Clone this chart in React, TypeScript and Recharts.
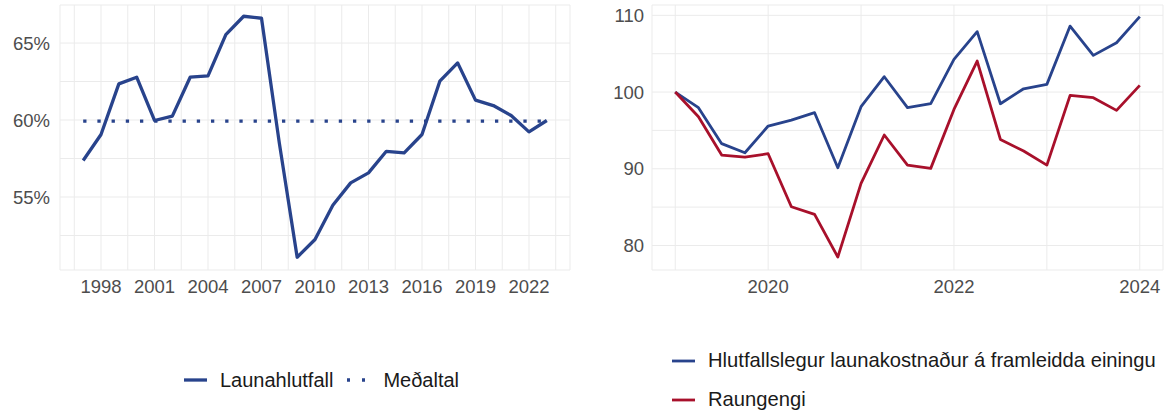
import React from 'react';
import { LineChart, Line, XAxis, YAxis, CartesianGrid } from 'recharts';

const years = [1997, 1998, 1999, 2000, 2001, 2002, 2003, 2004, 2005, 2006, 2007, 2008, 2009, 2010, 2011, 2012, 2013, 2014, 2015, 2016, 2017, 2018, 2019, 2020, 2021, 2022, 2023];
const launahlutfall = [57.37, 59.06, 62.35, 62.78, 59.97, 60.25, 62.78, 62.87, 65.55, 66.74, 66.61, 58.5, 51.09, 52.24, 54.47, 55.92, 56.57, 57.97, 57.87, 59.06, 62.52, 63.71, 61.29, 60.94, 60.29, 59.23, 59.97];
const leftXTicks = [1996.5, 1998, 1999.5, 2001, 2002.5, 2004, 2005.5, 2007, 2008.5, 2010, 2011.5, 2013, 2014.5, 2016, 2017.5, 2019, 2020.5, 2022, 2023.5];
const leftXLabels = [1998, 2001, 2004, 2007, 2010, 2013, 2016, 2019, 2022];
const leftYTicks = [52.5, 55, 57.5, 60, 62.5, 65];
const leftYLabels = [55, 60, 65];

const quarters = [2019, 2019.25, 2019.5, 2019.75, 2020, 2020.25, 2020.5, 2020.75, 2021, 2021.25, 2021.5, 2021.75, 2022, 2022.25, 2022.5, 2022.75, 2023, 2023.25, 2023.5, 2023.75, 2024];
const hlutfallslegur = [100.0, 97.96, 93.27, 92.09, 95.57, 96.35, 97.31, 90.14, 98.09, 102.0, 97.96, 98.48, 104.26, 107.87, 98.48, 100.43, 101.0, 108.6, 104.78, 106.43, 109.83];
const raungengi = [100.0, 96.79, 91.79, 91.53, 91.96, 85.05, 84.05, 78.49, 88.1, 94.4, 90.48, 90.05, 97.74, 104.04, 93.83, 92.31, 90.48, 99.57, 99.26, 97.61, 100.87];
const rightXTicks = [2019, 2020, 2021, 2022, 2023, 2024];
const rightXLabels = [2020, 2022, 2024];
const rightYTicks = [80, 85, 90, 95, 100, 105, 110];
const rightYLabels = [80, 90, 100, 110];

const BLUE = '#28438c';
const RED = '#a8102b';
const GRID = '#ebebeb';
const AXIS_TEXT = '#4d4d4d';
const FONT = '"Liberation Sans", Arial, sans-serif';

const meanValue = launahlutfall.reduce((a, b) => a + b, 0) / launahlutfall.length;
const leftData = years.map((y, i) => ({ year: y, value: launahlutfall[i], mean: meanValue }));
const rightData = quarters.map((q, i) => ({ q, hlut: hlutfallslegur[i], raun: raungengi[i] }));

const tickStyle = { fill: AXIS_TEXT, fontSize: 18.5, fontFamily: FONT };

export default function App() {
  return (
    <div style={{ position: 'absolute', left: 0, top: 0, width: 1165, height: 411, background: '#fff', fontFamily: FONT }}>
      <div style={{ position: 'absolute', left: 0, top: 0 }}>
        <LineChart width={580} height={300} data={leftData} margin={{ top: 5, right: 10, bottom: 5, left: 0 }}>
          <CartesianGrid stroke={GRID} strokeWidth={1} />
          <XAxis
            dataKey="year"
            type="number"
            domain={[1995.7, 2024.3]}
            ticks={leftXTicks}
            tickFormatter={(v: number) => (leftXLabels.includes(v) ? String(v) : '')}
            axisLine={false}
            tickLine={false}
            tick={tickStyle}
            tickMargin={4}
            height={25}
            interval={0}
            allowDataOverflow
          />
          <YAxis
            type="number"
            domain={[50.26, 67.47]}
            ticks={leftYTicks}
            tickFormatter={(v: number) => (leftYLabels.includes(v) ? `${v}%` : '')}
            axisLine={false}
            tickLine={false}
            tick={tickStyle}
            tickMargin={4}
            width={60}
            interval={0}
            allowDataOverflow
          />
          <Line type="linear" dataKey="mean" stroke={BLUE} strokeWidth={3.3} strokeDasharray="3.3 10.9" dot={false} isAnimationActive={false} />
          <Line type="linear" dataKey="value" stroke={BLUE} strokeWidth={3.3} dot={false} isAnimationActive={false} strokeLinejoin="round" />
        </LineChart>
      </div>
      <div style={{ position: 'absolute', left: 590, top: 0 }}>
        <LineChart width={575} height={300} data={rightData} margin={{ top: 5, right: 2, bottom: 5, left: 0 }}>
          <CartesianGrid stroke={GRID} strokeWidth={1} />
          <XAxis
            dataKey="q"
            type="number"
            domain={[2018.75, 2024.25]}
            ticks={rightXTicks}
            tickFormatter={(v: number) => (rightXLabels.includes(v) ? String(v) : '')}
            axisLine={false}
            tickLine={false}
            tick={tickStyle}
            tickMargin={4}
            height={25}
            interval={0}
            allowDataOverflow
          />
          <YAxis
            type="number"
            domain={[76.8, 111.35]}
            ticks={rightYTicks}
            tickFormatter={(v: number) => (rightYLabels.includes(v) ? String(v) : '')}
            axisLine={false}
            tickLine={false}
            tick={tickStyle}
            tickMargin={2}
            width={62}
            interval={0}
            allowDataOverflow
          />
          <Line type="linear" dataKey="hlut" stroke={BLUE} strokeWidth={2.8} dot={false} isAnimationActive={false} strokeLinejoin="round" />
          <Line type="linear" dataKey="raun" stroke={RED} strokeWidth={2.8} dot={false} isAnimationActive={false} strokeLinejoin="round" />
        </LineChart>
      </div>
      {/* Left legend */}
      <div style={{ position: 'absolute', left: 184, top: 366, height: 28, display: 'flex', alignItems: 'center', fontSize: 20, color: '#1a1a1a' }}>
        <svg width={23} height={10} style={{ marginRight: 13 }}>
          <line x1={0} y1={5} x2={23} y2={5} stroke={BLUE} strokeWidth={3.3} />
        </svg>
        <span>Launahlutfall</span>
        <svg width={18} height={10} style={{ marginLeft: 14, marginRight: 18 }}>
          <line x1={0} y1={5} x2={18} y2={5} stroke={BLUE} strokeWidth={3.3} strokeDasharray="3 12" />
        </svg>
        <span>Meðaltal</span>
      </div>
      {/* Right legend */}
      <div style={{ position: 'absolute', left: 672, top: 346, fontSize: 20.2, color: '#1a1a1a' }}>
        <div style={{ display: 'flex', alignItems: 'center', height: 29, marginBottom: 10 }}>
          <svg width={23} height={10} style={{ marginRight: 13 }}>
            <line x1={0} y1={5} x2={23} y2={5} stroke={BLUE} strokeWidth={2.8} />
          </svg>
          <span>Hlutfallslegur launakostnaður á framleidda einingu</span>
        </div>
        <div style={{ display: 'flex', alignItems: 'center', height: 29 }}>
          <svg width={23} height={10} style={{ marginRight: 13 }}>
            <line x1={0} y1={5} x2={23} y2={5} stroke={RED} strokeWidth={2.8} />
          </svg>
          <span>Raungengi</span>
        </div>
      </div>
    </div>
  );
}
